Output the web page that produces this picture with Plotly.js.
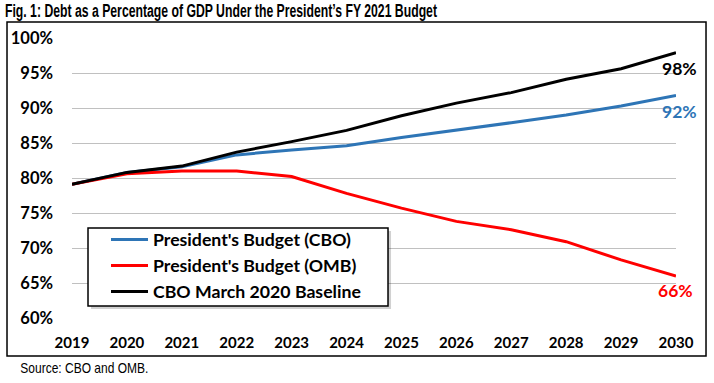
<!DOCTYPE html>
<html>
<head>
<meta charset="utf-8">
<script src="https://cdn.plot.ly/plotly-3.0.1.min.js"></script>
<style>html,body{margin:0;padding:0;background:#fff;}#chart{width:714px;height:383px;}</style>
</head>
<body>
<div id="chart"></div>
<script>
const years = [2019, 2020, 2021, 2022, 2023, 2024, 2025, 2026, 2027, 2028, 2029, 2030];
const presidentCBO = [79.1, 80.8, 81.6, 83.3, 84.0, 84.6, 85.8, 86.8, 87.9, 89.0, 90.3, 91.8];
const presidentOMB = [79.1, 80.6, 81.0, 81.0, 80.2, 77.8, 75.7, 73.8, 72.6, 70.9, 68.3, 66.0];
const cboBaseline = [79.1, 80.8, 81.7, 83.7, 85.2, 86.8, 88.9, 90.7, 92.2, 94.1, 95.6, 97.9];
const seriesNames = ["President's Budget (CBO)", "President's Budget (OMB)", "CBO March 2020 Baseline"];
const yTicks = [60, 65, 70, 75, 80, 85, 90, 95, 100];

const colors = ['#2E75B6', '#FF0000', '#000000'];
const series = [presidentCBO, presidentOMB, cboBaseline];
const bodyFont = 'Lato, Carlito, Calibri, sans-serif';
const narrowFont = '"Liberation Sans Narrow", "Arial Narrow", "Liberation Sans", Arial, sans-serif';

const traces = series.map((s, i) => ({
  x: years, y: s, name: seriesNames[i], type: 'scatter', mode: 'lines',
  line: {color: colors[i], width: 3}, hoverinfo: 'skip'
}));

const annotations = series.map((s, i) => ({
  x: years[years.length - 1], y: s[s.length - 1], xref: 'x', yref: 'y',
  text: Math.round(s[s.length - 1]) + '%', showarrow: false,
  xshift: [3, -1, 3][i], yshift: [-16, -14, -16][i],
  font: {family: bodyFont, size: 17.5, color: colors[i], weight: 'bold'}
}));
annotations.push({
  xref: 'paper', yref: 'paper', x: -0.111, y: -0.179, xanchor: 'left', yanchor: 'middle',
  text: 'Source: CBO and OMB.', showarrow: false,
  font: {family: narrowFont, size: 14.5, color: '#000'}
});

const layout = {
  width: 714, height: 383,
  margin: {l: 72, r: 38, t: 38, b: 65},
  paper_bgcolor: '#fff', plot_bgcolor: '#fff',
  showlegend: true,
  title: {
    text: "Fig. 1: Debt as a Percentage of GDP Under the President\u2019s FY 2021 Budget",
    xref: 'container', yref: 'container', x: 0.007, xanchor: 'left', y: 0.971, yanchor: 'middle',
    font: {family: narrowFont, size: 18, color: '#000', weight: 'bold'}
  },
  xaxis: {
    range: [2019, 2030], tickmode: 'array', tickvals: years, ticktext: years.map(String),
    showgrid: false, zeroline: false, showline: false, ticks: '',
    ticklabelstandoff: 14,
    tickfont: {family: bodyFont, size: 15, color: '#000', weight: 'bold'}
  },
  yaxis: {
    range: [60, 100], tickmode: 'array', tickvals: yTicks, ticktext: yTicks.map(v => v + '%'),
    showgrid: true, gridcolor: '#C0C0C0', gridwidth: 1, zeroline: false, showline: false, ticks: '',
    ticklabelstandoff: 18,
    tickfont: {family: bodyFont, size: 16.5, color: '#000', weight: 'bold'}
  },
  legend: {
    x: 0.0265, y: 0.345, xanchor: 'left', yanchor: 'top',
    bgcolor: 'rgba(0,0,0,0)', borderwidth: 0,
    font: {family: bodyFont, size: 17.7, color: '#000', weight: 'bold'},
    traceorder: 'normal', indentation: 18, itemwidth: 37
  },
  annotations: annotations,
  shapes: [{
    type: 'rect', xref: 'paper', yref: 'paper',
    x0: -0.1076, x1: 1.0497, y0: -0.1357, y1: 1.0571,
    line: {color: '#000', width: 1.5}, fillcolor: 'rgba(0,0,0,0)', layer: 'below'
  }, {
    // legend box shadow
    type: 'rect', xref: 'paper', yref: 'paper',
    x0: 0.0315, x1: 0.5282, y0: 0.032, y1: 0.3104,
    line: {width: 0}, fillcolor: 'rgba(0,0,0,0.18)', layer: 'above'
  }, {
    // legend box
    type: 'rect', xref: 'paper', yref: 'paper',
    x0: 0.0265, x1: 0.5232, y0: 0.0429, y1: 0.3214,
    line: {color: '#000', width: 1.5}, fillcolor: '#fff', layer: 'above'
  }]
};

Plotly.newPlot('chart', traces, layout, {displayModeBar: false, staticPlot: true}).then(gd => {
  const t = gd.querySelector('.gtitle');
  if (t) { t.setAttribute('textLength', '432'); t.setAttribute('lengthAdjust', 'spacingAndGlyphs'); }
  gd.querySelectorAll('.annotation-text').forEach(el => {
    if (el.textContent.indexOf('Source') === 0) {
      el.setAttribute('textLength', '128'); el.setAttribute('lengthAdjust', 'spacingAndGlyphs');
    }
  });
});
</script>
</body>
</html>
